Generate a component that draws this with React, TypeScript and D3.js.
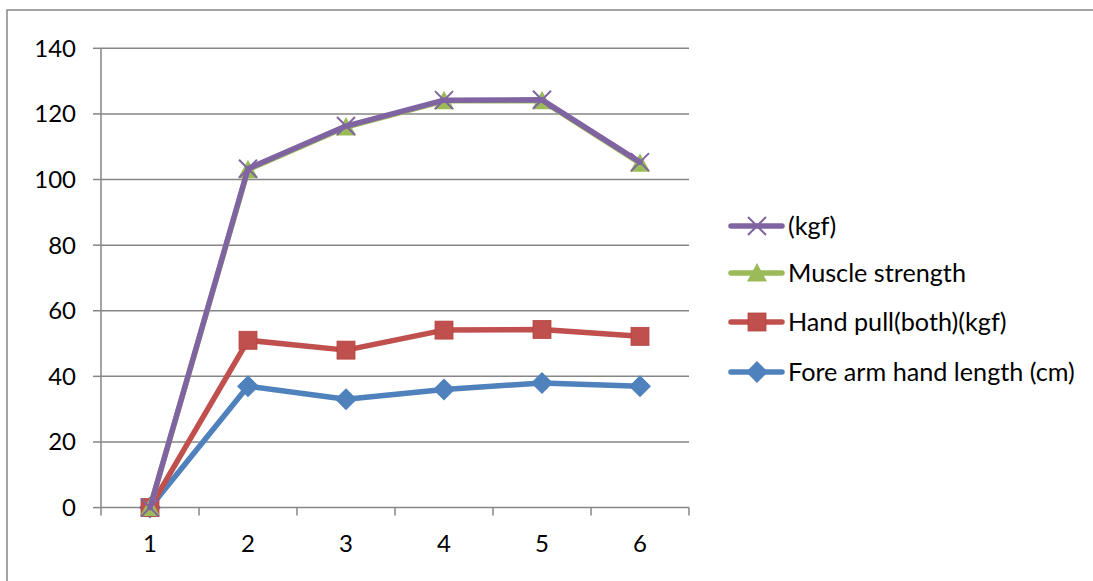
import React from "react";
import * as d3 from "d3";

const categories = ["1", "2", "3", "4", "5", "6"];
const yTicks = [0, 20, 40, 60, 80, 100, 120, 140];
const kgf = [0, 103.3, 116.3, 124.2, 124.3, 105.3];
const muscleStrength = [0, 103, 116, 124, 124, 105];
const handPull = [0, 51, 48, 54.1, 54.3, 52.2];
const foreArm = [0, 37, 33, 36, 38, 37];

type Series = { name: string; values: number[]; color: string; marker: string };
const seriesDrawOrder: Series[] = [
  { name: "Fore arm hand length (cm)", values: foreArm, color: "#4F81BD", marker: "diamond" },
  { name: "Hand pull(both)(kgf)", values: handPull, color: "#C0504D", marker: "square" },
  { name: "Muscle strength", values: muscleStrength, color: "#9BBB59", marker: "triangle" },
  { name: "(kgf)", values: kgf, color: "#8064A2", marker: "x" },
];
const legendOrder = [...seriesDrawOrder].reverse();

const W = 1093, H = 581;
const plotL = 101, plotR = 689, plotT = 48.3, plotB = 507.6;
const font = "Lato, 'Open Sans', sans-serif";

function Marker({ type, cx, cy, color }: { type: string; cx: number; cy: number; color: string }) {
  if (type === "square") {
    const s = 18;
    return <rect x={cx - s / 2} y={cy - s / 2} width={s} height={s} fill={color} stroke="#B5443F" strokeWidth={0.8} />;
  }
  if (type === "diamond") {
    const r = 11;
    return <path d={`M${cx},${cy - r}L${cx + r},${cy}L${cx},${cy + r}L${cx - r},${cy}Z`} fill={color} />;
  }
  if (type === "triangle") {
    const r = 10;
    return <path d={`M${cx},${cy - r}L${cx + r},${cy + r * 0.85}L${cx - r},${cy + r * 0.85}Z`} fill={color} />;
  }
  const r = 9;
  return (
    <path d={`M${cx - r},${cy - r}L${cx + r},${cy + r}M${cx + r},${cy - r}L${cx - r},${cy + r}`} stroke={color} strokeWidth={2} fill="none" />
  );
}

export default function App() {
  const x = d3.scaleBand<string>().domain(categories).range([plotL, plotR]);
  const y = d3.scaleLinear().domain([0, 140]).range([plotB, plotT]);
  const cx = (c: string) => (x(c) as number) + x.bandwidth() / 2;
  const line = d3.line<number>().x((_, i) => cx(categories[i])).y((v) => y(v));
  const catEdges = categories.map((c) => x(c) as number).concat([plotR]);

  return (
    <svg width={W} height={H} style={{ position: "absolute", left: 0, top: 0, background: "#fff" }}>
      <rect x={7} y={10} width={1200} height={700} fill="#fff" stroke="#868686" strokeWidth={1.5} />
      {yTicks.map((t) => (
        <g key={t}>
          <line x1={plotL} x2={plotR} y1={y(t)} y2={y(t)} stroke="#868686" strokeWidth={1.5} />
          <line x1={93} x2={plotL} y1={y(t)} y2={y(t)} stroke="#868686" strokeWidth={1.5} />
          <text x={76} y={y(t)} dy="0.35em" textAnchor="end" fontFamily={font} fontSize={24} fill="#000">
            {t}
          </text>
        </g>
      ))}
      <line x1={plotL} x2={plotL} y1={plotT} y2={plotB} stroke="#868686" strokeWidth={1.5} />
      {catEdges.map((e, i) => (
        <line key={i} x1={e} x2={e} y1={plotB} y2={plotB + 8} stroke="#868686" strokeWidth={1.5} />
      ))}
      {categories.map((c) => (
        <text key={c} x={cx(c)} y={544} dy="0.35em" textAnchor="middle" fontFamily={font} fontSize={24} fill="#000">
          {c}
        </text>
      ))}
      {seriesDrawOrder.map((s) => (
        <g key={s.name}>
          <path d={line(s.values) || ""} fill="none" stroke={s.color} strokeWidth={5.5} strokeLinejoin="round" strokeLinecap="round" />
          {s.values.map((v, i) => (
            <Marker key={i} type={s.marker} cx={cx(categories[i])} cy={y(v)} color={s.color} />
          ))}
        </g>
      ))}
      {legendOrder.map((s, i) => {
        const ly = [226, 273, 322, 372][i];
        return (
          <g key={s.name}>
            <line x1={731} x2={782} y1={ly} y2={ly} stroke={s.color} strokeWidth={5.5} strokeLinecap="round" />
            <Marker type={s.marker} cx={757} cy={ly} color={s.color} />
            <text x={788} y={ly} dy="0.35em" fontFamily={font} fontSize={25.2} fill="#000">
              {s.name}
            </text>
          </g>
        );
      })}
    </svg>
  );
}
